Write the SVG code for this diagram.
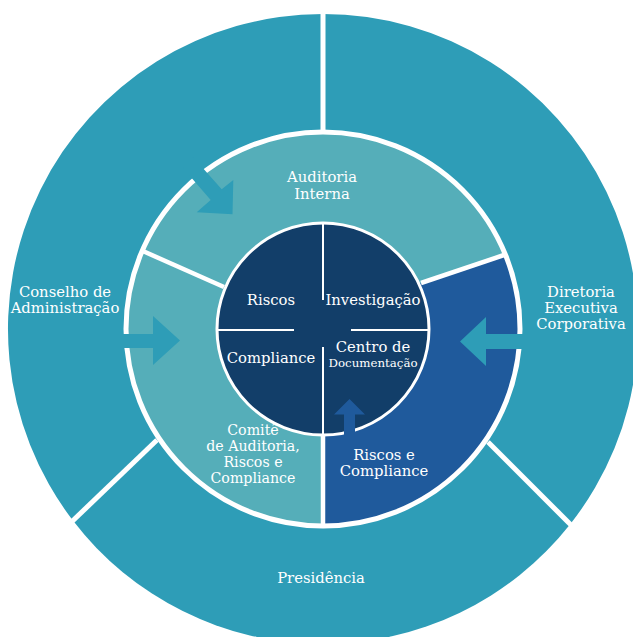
<svg xmlns="http://www.w3.org/2000/svg" width="633" height="637" viewBox="0 0 633 637">
  <style>
    .outer { fill: #2e9db7; }
    .middle { fill: #55aeb9; }
    .middle-dark { fill: #1f5a9c; }
    .core { fill: #123e69; }
    .label { fill: #ffffff; font-family: "DejaVu Serif", "Liberation Serif", serif; font-size: 14.8px; text-anchor: middle; }
    .label-tight { font-size: 14.2px; }
    .label-sm { font-size: 11.8px; }
    .divider { stroke: #ffffff; stroke-width: 5; fill: none; }
    .divider-mid { stroke: #ffffff; stroke-width: 4.5; fill: none; }
    .divider-core { stroke: #ffffff; stroke-width: 2; fill: none; }
    .arrow-teal { fill: #2e9db7; }
    .arrow-blue { fill: #1f5a9c; }
  </style>

  <!-- Outer ring: three governance bodies -->
  <g id="conselho-de-administracao">
    <path class="outer" d="M323 329 L323 14 A315 315 0 0 0 73.1 520.8 L157 440 Z"/>
    <text class="label" x="65" y="297">Conselho de</text>
    <text class="label" x="65" y="313">Administração</text>
  </g>
  <g id="presidencia">
    <path class="outer" d="M323 329 L157 440 L73.1 520.8 A315 315 0 0 0 570.2 524.2 L488 442 Z"/>
    <text class="label" x="321" y="583">Presidência</text>
  </g>
  <g id="diretoria-executiva">
    <path class="outer" d="M323 329 L488 442 L570.2 524.2 A315 315 0 0 0 323 14 Z"/>
    <text class="label" x="581" y="297">Diretoria</text>
    <text class="label" x="581" y="313">Executiva</text>
    <text class="label" x="581" y="329">Corporativa</text>
  </g>

  <!-- Middle ring: committees and functions -->
  <g id="auditoria-interna">
    <path class="middle" d="M323 329 L224 287 L142.3 250.8 A197 197 0 0 1 505.5 254.5 L421 283 Z"/>
    <text class="label" x="322" y="182">Auditoria</text>
    <text class="label" x="322" y="199">Interna</text>
  </g>
  <g id="riscos-e-compliance">
    <path class="middle-dark" d="M323 329 L421 283 L505.5 254.5 A197 197 0 0 1 323 526 Z"/>
    <text class="label" x="384" y="460">Riscos e</text>
    <text class="label" x="384" y="476">Compliance</text>
  </g>
  <g id="comite-auditoria-riscos-compliance">
    <path class="middle" d="M323 329 L323 526 A197 197 0 0 1 142.3 250.8 L224 287 Z"/>
    <text class="label label-tight" x="253" y="435">Comitê</text>
    <text class="label label-tight" x="253" y="451">de Auditoria,</text>
    <text class="label label-tight" x="253" y="467">Riscos e</text>
    <text class="label label-tight" x="253" y="483">Compliance</text>
  </g>

  <!-- Ring borders and separators -->
  <g id="separators">
    <circle class="divider" cx="323" cy="329" r="197"/>
    <line class="divider" x1="323" y1="0" x2="323" y2="132"/>
    <line class="divider" x1="157" y1="440" x2="60" y2="533"/>
    <line class="divider" x1="488" y1="442" x2="585" y2="539"/>
    <line class="divider-mid" x1="224" y1="287" x2="142.3" y2="250.8"/>
    <line class="divider-mid" x1="421" y1="283" x2="505.5" y2="254.5"/>
    <line class="divider-mid" x1="323" y1="430" x2="323" y2="526"/>
  </g>

  <!-- Core: four quadrants -->
  <g id="riscos">
    <path class="core" d="M323 329 L217 329 A106 106 0 0 1 323 223 Z"/>
    <text class="label" x="271" y="305">Riscos</text>
  </g>
  <g id="investigacao">
    <path class="core" d="M323 329 L323 223 A106 106 0 0 1 429 329 Z"/>
    <text class="label" x="373" y="305">Investigação</text>
  </g>
  <g id="compliance">
    <path class="core" d="M323 329 L217 329 A106 106 0 0 0 323 435 Z"/>
    <text class="label" x="271" y="363">Compliance</text>
  </g>
  <g id="centro-de-documentacao">
    <path class="core" d="M323 329 L323 435 A106 106 0 0 0 429 329 Z"/>
    <text class="label" x="373" y="352">Centro de</text>
    <text class="label label-sm" x="373" y="367">Documentação</text>
  </g>

  <g id="core-separators">
    <circle cx="323" cy="329" r="106" fill="none" stroke="#ffffff" stroke-width="3"/>
    <line class="divider-core" x1="323" y1="223" x2="323" y2="300"/>
    <line class="divider-core" x1="323" y1="347" x2="323" y2="435"/>
    <line class="divider-core" x1="218" y1="330" x2="294" y2="330"/>
    <line class="divider-core" x1="351" y1="330" x2="428" y2="330"/>
  </g>

  <!-- Connectors: block arrows -->
  <g id="connectors">
    <polygon class="arrow-teal" points="193,157 221.7,189.3 233.3,180 232.5,214.3 196.7,212.3 210.7,200 183,168"/>
    <polygon class="arrow-teal" points="110,334 153,334 153,316 180,340.5 153,365 153,348 110,348"/>
    <polygon class="arrow-teal" points="540,334 486,334 486,317 460,341.5 486,366 486,349 540,349"/>
    <polygon class="arrow-blue" points="344,445 344,414.5 334,414.5 349.5,399 365,414.5 355,414.5 355,445"/>
  </g>
</svg>
